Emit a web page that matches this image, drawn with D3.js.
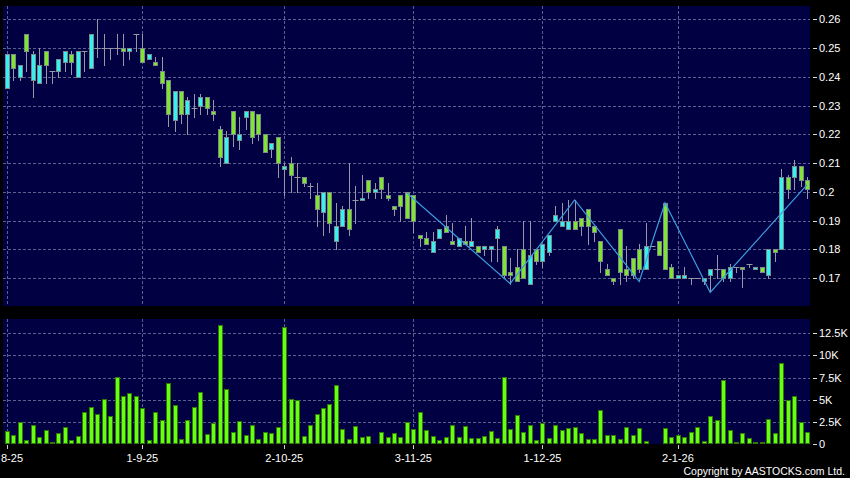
<!DOCTYPE html>
<html>
<head>
<meta charset="utf-8">
<script src="https://cdn.jsdelivr.net/npm/d3@7"></script>
<style>
	body { margin: 0; background: #000; }
	svg { display: block; font-family: "Liberation Sans", Arial, sans-serif; }
	.axis-label { fill: #fff; font-size: 11px; }
	.grid { stroke: #58608e; stroke-width: 1; stroke-dasharray: 3,2; shape-rendering: crispEdges; }
</style>
</head>
<body>
<div id="chart"></div>
<script>
///////////////////////////////////////////////////////////////////////////
///////////////////////////////// Data ////////////////////////////////////
///////////////////////////////////////////////////////////////////////////

//daily candles, 1-8-25 to 30-1-26
var opens = [.236,.248,.240,.255,.239,.238,.249,.242,.242,.245, .248,.240,.249,.243,.250,.250,.250,.250,.250,.249,
	.255,.250,.246,.245,.242,.239,.225,.235,.227,.229, .230,.233,.228,.222,.210,.228,.218,.226,.228,.227,
	.220,.215,.219,.208,.210,.205,.205,.202,.199,.193, .200,.183,.188,.194,.197,.197,.204,.200,.205,.199,
	.195,.199,.200,.199,.185,.184,.179,.184,.188,.183, .181,.183,.181,.181,.180,.180,.184,.181,.172,.174,
	.180,.168,.180,.176,.179,.190,.188,.187,.190,.191, .194,.188,.183,.173,.170,.187,.173,.177,.180,.173,
	.181,.183,.196,.174,.170,.170,.170,.170,.169,.171, .173,.173,.170,.174,.174,.175,.173,.174,.171,.180,
	.180,.205,.205,.209,.204];
var highs = [.248,.248,.244,.255,.249,.250,.249,.242,.246,.249, .249,.249,.249,.255,.260,.255,.250,.255,.255,.250,
	.255,.255,.248,.247,.247,.239,.235,.235,.233,.234, .234,.233,.232,.223,.221,.228,.226,.228,.228,.227,
	.220,.217,.219,.210,.212,.210,.205,.203,.203,.200, .200,.196,.195,.210,.202,.206,.204,.203,.205,.203,
	.195,.199,.200,.199,.185,.186,.186,.187,.192,.189, .184,.188,.191,.181,.181,.181,.188,.181,.177,.180,
	.190,.190,.180,.182,.185,.195,.196,.197,.197,.191, .194,.188,.183,.175,.170,.187,.181,.177,.182,.189,
	.181,.183,.196,.175,.171,.174,.170,.170,.170,.173, .178,.173,.175,.174,.174,.175,.174,.174,.180,.180,
	.208,.206,.211,.209,.205];
var lows = [.236,.239,.239,.242,.233,.238,.238,.238,.240,.242, .241,.240,.242,.243,.247,.244,.246,.248,.244,.246,
	.249,.245,.246,.244,.236,.223,.221,.224,.220,.226, .227,.227,.225,.209,.210,.216,.215,.222,.217,.218,
	.214,.212,.205,.199,.200,.200,.202,.198,.188,.185, .186,.180,.188,.185,.189,.197,.198,.198,.198,.197,
	.192,.190,.191,.186,.181,.182,.179,.184,.186,.182, .181,.182,.181,.179,.178,.176,.176,.170,.168,.169,
	.170,.168,.175,.174,.178,.190,.188,.187,.187,.185, .182,.183,.172,.171,.168,.168,.169,.170,.172,.173,
	.181,.178,.173,.170,.170,.170,.168,.170,.168,.166, .170,.169,.169,.172,.167,.174,.173,.172,.170,.176,
	.180,.198,.201,.202,.198];
var closes = [.248,.243,.244,.249,.248,.244,.244,.242,.246,.249, .245,.249,.249,.255,.250,.250,.250,.250,.249,.250,
	.255,.245,.248,.244,.238,.227,.235,.227,.232,.229, .233,.229,.227,.212,.219,.220,.220,.228,.219,.220,
	.214,.217,.210,.209,.206,.205,.203,.202,.194,.200, .189,.188,.194,.187,.197,.198,.200,.201,.201,.198,
	.194,.195,.191,.190,.184,.182,.183,.187,.186,.182, .184,.182,.183,.179,.181,.181,.187,.171,.171,.169,
	.170,.178,.176,.182,.185,.192,.190,.190,.187,.188, .188,.186,.176,.171,.169,.172,.171,.171,.173,.181,
	.181,.178,.173,.170,.171,.171,.170,.170,.170,.173, .173,.170,.174,.174,.173,.175,.174,.172,.180,.179,
	.205,.201,.209,.204,.201];
var volumes = [1515,1023,2500,455,2159,833,1591,189,1212,1894, 455,947,3561,4129,3371,5076,3144,7538,5417,5796,
	5379,4015,455,3636,2727,6894,4394,606,2727,4129, 5909,1136,2386,13485,6250,1401,2576,1023,2159,568,
	1326,1288,1932,13258,5076,4924,947,2159,3409,4091, 4470,6667,1667,606,2083,758,909,0,1326,833,
	1250,833,2538,1705,3598,1629,871,455,795,2197, 833,2045,720,682,871,1439,682,7538,1705,3295,
	1326,2121,455,2348,682,2197,1591,1856,1932,1212, 530,530,3864,1061,1023,530,1932,985,1818,303,
	152,152,1818,795,1061,795,1364,1970,341,3182, 2727,7197,1591,189,1212,644,265,265,2803,1212,
	9167,5000,5379,2500,1364];

//zigzag line (index of the day, price)
var zigzagIdx = [62, 78, 88, 98, 102, 109, 124];
var zigzagVal = [.1996, .1681, .1972, .1688, .1962, .1650, .2024];

//tick labels (the first one is clipped by the left edge in the original, only "8-25" shows)
var priceTicks = [.17,.18,.19,.20,.21,.22,.23,.24,.25,.26];
var volumeTicks = [0, 2500, 5000, 7500, 10000, 12500];
var volumeTickLabels = ["0", "2.5K", "5K", "7.5K", "10K", "12.5K"];
var dateTickIdx = [0, 21, 43, 63, 83, 104];
var dateTickLabels = ["8-25", "1-9-25", "2-10-25", "3-11-25", "1-12-25", "2-1-26"];

///////////////////////////////////////////////////////////////////////////
//////////////////////////// Set up the SVG ///////////////////////////////
///////////////////////////////////////////////////////////////////////////
var width = 850,
	height = 478;

var plotLeft = 3, plotRight = 810;
var priceTop = 6, priceBottom = 306;
var volTop = 319, volBottom = 444;

var svg = d3.select("#chart")
	.append("svg")
	.attr("width", width)
	.attr("height", height);

svg.append("rect")
	.attr("width", width)
	.attr("height", height)
	.style("fill", "#000");

///////////////////////////////////////////////////////////////////////////
////////////////////////// Create the scales //////////////////////////////
///////////////////////////////////////////////////////////////////////////
var n = closes.length;

var xScale = d3.scaleLinear()
	.domain([0, n - 1])
	.range([6.8, 807]);

var yScale = d3.scaleLinear()
	.domain([.1603, .2646])
	.range([priceBottom, priceTop]);

var volScale = d3.scaleLinear()
	.domain([0, 14115])
	.range([volBottom, volTop]);

function px(i) { return Math.round(xScale(i)); }

///////////////////////////////////////////////////////////////////////////
//////////////////////////// Panels and grid //////////////////////////////
///////////////////////////////////////////////////////////////////////////
svg.append("rect")
	.attr("x", plotLeft).attr("y", priceTop)
	.attr("width", plotRight - plotLeft).attr("height", priceBottom - priceTop)
	.style("fill", "#000042");

svg.append("rect")
	.attr("x", plotLeft).attr("y", volTop)
	.attr("width", plotRight - plotLeft).attr("height", volBottom - volTop)
	.style("fill", "#000042");

svg.selectAll(".price-grid")
	.data(priceTicks)
	.enter().append("line")
	.attr("class", "grid price-grid")
	.attr("x1", plotLeft).attr("x2", plotRight)
	.attr("y1", function(d) { return Math.round(yScale(d)) + 0.5; })
	.attr("y2", function(d) { return Math.round(yScale(d)) + 0.5; });

svg.selectAll(".vol-grid")
	.data(volumeTicks.slice(1))
	.enter().append("line")
	.attr("class", "grid vol-grid")
	.attr("x1", plotLeft).attr("x2", plotRight)
	.attr("y1", function(d) { return Math.round(volScale(d)) + 0.5; })
	.attr("y2", function(d) { return Math.round(volScale(d)) + 0.5; });

[[priceTop, priceBottom], [volTop, volBottom]].forEach(function(p) {
	svg.selectAll(null)
		.data(dateTickIdx)
		.enter().append("line")
		.attr("class", "grid")
		.attr("x1", function(d) { return px(d) + 0.5; })
		.attr("x2", function(d) { return px(d) + 0.5; })
		.attr("y1", p[0]).attr("y2", p[1]);
});

///////////////////////////////////////////////////////////////////////////
/////////////////////////////// Candles ///////////////////////////////////
///////////////////////////////////////////////////////////////////////////
var days = d3.range(n);

var candle = svg.append("g").attr("class", "candles")
	.selectAll(".candle")
	.data(days)
	.enter().append("g")
	.attr("class", "candle");

//wick
candle.append("line")
	.attr("x1", function(i) { return px(i) + 0.5; })
	.attr("x2", function(i) { return px(i) + 0.5; })
	.attr("y1", function(i) { return Math.round(yScale(highs[i])); })
	.attr("y2", function(i) { return Math.round(yScale(lows[i])) + 1; })
	.style("stroke", "#9898a4")
	.style("stroke-width", 1);

//body, or a flat dash when open = close
candle.each(function(i) {
	var g = d3.select(this);
	var top = Math.round(yScale(Math.max(opens[i], closes[i])));
	var bot = Math.round(yScale(Math.min(opens[i], closes[i])));
	if (bot - top < 1) {
		g.append("line")
			.attr("x1", px(i) - 2.5).attr("x2", px(i) + 3.5)
			.attr("y1", top + 0.5).attr("y2", top + 0.5)
			.style("stroke", "#9898a4");
	} else {
		g.append("rect")
			.attr("x", px(i) - 1.5)
			.attr("y", top + 0.5)
			.attr("width", 4)
			.attr("height", bot - top)
			.style("fill", closes[i] > opens[i] ? "#33f2f2" : "#7fe62e")
			.style("stroke", "#7c8a8a")
			.style("stroke-width", 1);
	}
});

//zigzag
var zigLine = d3.line()
	.x(function(d) { return xScale(d[0]); })
	.y(function(d) { return yScale(d[1]); });

svg.append("path")
	.datum(zigzagIdx.map(function(d, k) { return [d, zigzagVal[k]]; }))
	.attr("d", zigLine)
	.style("fill", "none")
	.style("stroke", "#3d9de0")
	.style("stroke-width", 1.2);

///////////////////////////////////////////////////////////////////////////
/////////////////////////////// Volume ////////////////////////////////////
///////////////////////////////////////////////////////////////////////////
svg.append("g").attr("class", "volume")
	.selectAll("rect")
	.data(days.filter(function(i) { return volumes[i] > 0; }))
	.enter().append("rect")
	.attr("x", function(i) { return px(i) - 1.5; })
	.attr("y", function(i) { return Math.round(volScale(volumes[i])) + 0.5; })
	.attr("width", 4)
	.attr("height", function(i) { return volBottom - Math.round(volScale(volumes[i])) - 1; })
	.style("fill", "#66ff14")
	.style("stroke", "#2f7a00")
	.style("stroke-width", 1);

///////////////////////////////////////////////////////////////////////////
//////////////////////////////// Axes /////////////////////////////////////
///////////////////////////////////////////////////////////////////////////
var priceAxis = svg.append("g").attr("class", "price-axis");
priceAxis.selectAll("line")
	.data(priceTicks)
	.enter().append("line")
	.attr("x1", 813).attr("x2", 817)
	.attr("y1", function(d) { return Math.round(yScale(d)) + 0.5; })
	.attr("y2", function(d) { return Math.round(yScale(d)) + 0.5; })
	.style("stroke", "#ddd");
priceAxis.selectAll("text")
	.data(priceTicks)
	.enter().append("text")
	.attr("class", "axis-label")
	.attr("x", 819)
	.attr("y", function(d) { return yScale(d) + 4; })
	.text(function(d) { return String(+d.toFixed(2)); });

var volAxis = svg.append("g").attr("class", "vol-axis");
volAxis.selectAll("line")
	.data(volumeTicks)
	.enter().append("line")
	.attr("x1", 813).attr("x2", 817)
	.attr("y1", function(d) { return Math.round(volScale(d)) + 0.5; })
	.attr("y2", function(d) { return Math.round(volScale(d)) + 0.5; })
	.style("stroke", "#ddd");
volAxis.selectAll("text")
	.data(volumeTicks)
	.enter().append("text")
	.attr("class", "axis-label")
	.attr("x", 819)
	.attr("y", function(d) { return volScale(d) + 4; })
	.text(function(d, k) { return volumeTickLabels[k]; });

var dateAxis = svg.append("g").attr("class", "date-axis");
dateAxis.selectAll("line")
	.data(dateTickIdx)
	.enter().append("line")
	.attr("x1", function(d) { return px(d) + 0.5; })
	.attr("x2", function(d) { return px(d) + 0.5; })
	.attr("y1", 445).attr("y2", 449)
	.style("stroke", "#ccc");
//first label sits against the left edge
dateAxis.selectAll("text")
	.data(dateTickIdx)
	.enter().append("text")
	.attr("class", "axis-label")
	.attr("x", function(d, k) { return k === 0 ? 1 : xScale(d); })
	.attr("y", 462)
	.attr("text-anchor", function(d, k) { return k === 0 ? "start" : "middle"; })
	.text(function(d, k) { return dateTickLabels[k]; });

svg.append("text")
	.attr("class", "axis-label")
	.attr("x", 845)
	.attr("y", 475)
	.attr("text-anchor", "end")
	.style("font-size", "10.5px")
	.text("Copyright by AASTOCKS.com Ltd.");
</script>
</body>
</html>
